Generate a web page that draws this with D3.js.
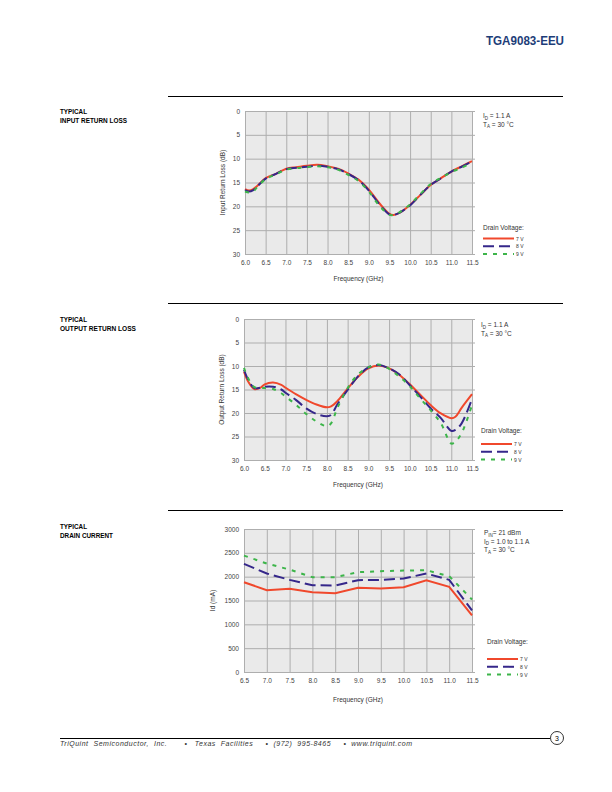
<!DOCTYPE html>
<html>
<head>
<meta charset="utf-8">
<script src="https://cdn.jsdelivr.net/npm/d3@7"></script>
<style>
  body { margin: 0; background: #fff; }
  svg text { font-family: "Liberation Sans", Arial, sans-serif; }
</style>
</head>
<body>
<svg width="612" height="792"></svg>
<script>
// chart 1: input return loss (dB) vs frequency (GHz)
const irlFreq = [6.0, 6.1, 6.2, 6.3, 6.5, 6.75, 7.0, 7.25, 7.5, 7.75, 8.0, 8.25, 8.5, 8.75, 9.0, 9.25, 9.5, 9.6, 9.75, 10.0, 10.25, 10.5, 10.75, 11.0, 11.25, 11.5];
const irl7V = [16.4, 16.7, 16.4, 15.7, 14.1, 13.2, 12.1, 11.8, 11.5, 11.3, 11.6, 12.1, 13.1, 14.4, 16.5, 19.3, 21.6, 21.8, 21.3, 19.7, 17.6, 15.5, 14.1, 12.7, 11.6, 10.5];
const irl8V = [16.6, 16.9, 16.6, 15.8, 14.2, 13.2, 12.2, 11.9, 11.7, 11.5, 11.7, 12.2, 13.2, 14.5, 16.7, 19.5, 21.7, 21.8, 21.3, 19.8, 17.6, 15.5, 14.1, 12.7, 11.7, 10.6];
const irl9V = [16.9, 17.1, 16.9, 15.9, 14.3, 13.3, 12.3, 12.0, 11.8, 11.6, 11.8, 12.3, 13.4, 14.7, 16.9, 19.8, 21.8, 21.8, 21.2, 19.6, 17.4, 15.3, 14.0, 12.8, 11.9, 10.8];

// chart 2: output return loss (dB)
const orlFreq = [6.0, 6.1, 6.25, 6.4, 6.5, 6.7, 6.9, 7.0, 7.25, 7.5, 7.75, 8.0, 8.1, 8.25, 8.5, 8.75, 9.0, 9.25, 9.5, 9.75, 10.0, 10.25, 10.5, 10.75, 11.0, 11.1, 11.25, 11.5];
const orl7V = [11.2, 13.3, 14.9, 14.6, 13.9, 13.5, 14.0, 14.6, 16.0, 17.2, 18.2, 18.8, 18.6, 17.5, 14.8, 12.3, 10.5, 9.9, 10.5, 11.9, 13.9, 16.1, 18.3, 20.1, 21.1, 20.8, 18.9, 16.0];
const orl8V = [10.8, 12.9, 14.7, 14.6, 14.4, 14.4, 15.0, 15.7, 17.2, 19.0, 20.2, 20.7, 20.4, 18.2, 15.1, 12.2, 10.3, 9.8, 10.5, 11.8, 14.1, 16.5, 19.0, 21.1, 23.8, 23.6, 22.2, 17.0];
const orl9V = [10.4, 12.6, 14.5, 14.7, 14.7, 14.9, 15.8, 16.5, 18.2, 20.2, 21.8, 22.8, 22.2, 19.0, 14.7, 11.8, 10.3, 9.7, 10.6, 12.3, 14.3, 16.9, 19.4, 22.2, 26.5, 26.1, 24.3, 18.3];

// chart 3: drain current (mA)
const idFreq = [6.5, 7.0, 7.5, 8.0, 8.5, 9.0, 9.5, 10.0, 10.5, 11.0, 11.5];
const id7V = [1884, 1717, 1745, 1675, 1654, 1766, 1752, 1780, 1926, 1787, 1186];
const id8V = [2268, 2066, 1933, 1821, 1814, 1926, 1933, 1961, 2066, 1933, 1291];
const id9V = [2442, 2275, 2149, 1989, 1989, 2094, 2115, 2128, 2135, 2010, 1521];

const seriesNames = ["7 V", "8 V", "9 V"];
const seriesColors = ["#f0482c", "#35278a", "#3db54a"];
const seriesDash = [null, "11,5", "4,6"];

const svg = d3.select("svg");

// condensed bold text, squeezed to the width seen in the datasheet
function narrowText(parent, x, y, size, width, txt, anchor) {
    return parent.append("text")
        .attr("x", x).attr("y", y)
        .attr("text-anchor", anchor || "start")
        .attr("textLength", width)
        .attr("lengthAdjust", "spacingAndGlyphs")
        .style("font-weight", "bold")
        .style("font-size", size + "px")
        .text(txt);
}

// header
narrowText(svg, 564, 45, 13.5, 78, "TGA9083-EEU", "end").attr("fill", "#1d3d78");

function drawChart(cfg) {
    const g = svg.append("g");

    // section rule
    g.append("line")
        .attr("x1", 168).attr("x2", 563)
        .attr("y1", cfg.ruleY).attr("y2", cfg.ruleY)
        .attr("stroke", "#000").attr("stroke-width", 1);

    // section title
    cfg.title.forEach((t, i) => {
        narrowText(g, 60, cfg.titleY + i * 9, 7.5, cfg.titleW[i], t);
    });

    const x = d3.scaleLinear().domain(cfg.xDomain).range([cfg.left, cfg.right]);
    const y = d3.scaleLinear().domain(cfg.yDomain).range([cfg.top, cfg.bottom]);

    g.append("rect")
        .attr("x", cfg.left).attr("y", cfg.top)
        .attr("width", cfg.right - cfg.left).attr("height", cfg.bottom - cfg.top)
        .attr("fill", "#eaeaea");

    // grid
    g.append("g")
        .attr("transform", "translate(0," + cfg.bottom + ")")
        .call(d3.axisBottom(x).tickValues(cfg.xTicks).tickSize(-(cfg.bottom - cfg.top)).tickFormat(d => d.toFixed(1)).tickPadding(6))
        .call(a => a.select(".domain").remove())
        .call(a => a.selectAll("line").attr("stroke", "#aeaeae"))
        .call(a => a.selectAll("text").attr("fill", "#444").style("font-size", "6.5px"));

    g.append("g")
        .attr("transform", "translate(" + cfg.left + ",0)")
        .call(d3.axisLeft(y).tickValues(cfg.yTicks).tickSize(-(cfg.right - cfg.left + 3)).tickFormat(d3.format("d")).tickPadding(5))
        .call(a => a.select(".domain").remove())
        .call(a => a.selectAll("line").attr("stroke", "#aeaeae"))
        .call(a => a.selectAll("text").attr("fill", "#444").style("font-size", "6.5px"));

    // axis titles
    g.append("text")
        .attr("transform", "translate(" + cfg.yLabelX + "," + ((cfg.top + cfg.bottom) / 2) + ") rotate(-90)")
        .attr("text-anchor", "middle")
        .attr("fill", "#333")
        .style("font-size", "6.5px")
        .text(cfg.yLabel);

    g.append("text")
        .attr("x", (cfg.left + cfg.right) / 2).attr("y", cfg.xLabelY)
        .attr("text-anchor", "middle")
        .attr("fill", "#333")
        .style("font-size", "6.5px")
        .text("Frequency (GHz)");

    // series
    const line = d3.line()
        .x(d => x(d[0]))
        .y(d => y(d[1]))
        .curve(cfg.curve);

    cfg.series.forEach((vals, i) => {
        g.append("path")
            .datum(cfg.freq.map((f, j) => [f, vals[j]]))
            .attr("fill", "none")
            .attr("stroke", seriesColors[i])
            .attr("stroke-width", 2)
            .attr("stroke-dasharray", seriesDash[i])
            .attr("d", line);
    });

    // conditions
    cfg.notes.forEach((n, i) => {
        const t = g.append("text")
            .attr("x", cfg.noteX).attr("y", cfg.noteY + i * 8.5)
            .attr("fill", "#333")
            .style("font-size", "6.5px");
        t.append("tspan").text(n[0]);
        t.append("tspan").attr("dy", 1.5).style("font-size", "4.5px").text(n[1]);
        t.append("tspan").attr("dy", -1.5).text(n[2]);
    });

    // legend
    g.append("text")
        .attr("x", cfg.legX).attr("y", cfg.legY)
        .attr("fill", "#333")
        .style("font-size", "6.5px")
        .text("Drain Voltage:");

    seriesNames.forEach((s, i) => {
        const ly = cfg.legY + cfg.legGap0 + i * 7.8;
        g.append("line")
            .attr("x1", cfg.legX).attr("x2", cfg.legX + 31)
            .attr("y1", ly).attr("y2", ly)
            .attr("stroke", seriesColors[i])
            .attr("stroke-width", 2)
            .attr("stroke-dasharray", seriesDash[i]);
        g.append("text")
            .attr("x", cfg.legX + 33).attr("y", ly + 2)
            .attr("fill", "#333")
            .style("font-size", "5px")
            .text(s);
    });
}

drawChart({
    ruleY: 96.5, title: ["TYPICAL", "INPUT RETURN LOSS"], titleW: [27, 67], titleY: 114,
    left: 245, right: 472, top: 111, bottom: 254,
    xDomain: [6, 11.5], yDomain: [0, 30],
    xTicks: d3.range(6, 11.51, 0.5), yTicks: d3.range(0, 31, 5),
    yLabel: "Input Return Loss (dB)", yLabelX: 225, xLabelY: 281,
    freq: irlFreq, series: [irl7V, irl8V, irl9V], curve: d3.curveCatmullRom,
    notes: [["I", "D", " = 1.1 A"], ["T", "A", " = 30 °C"]], noteX: 483, noteY: 118,
    legX: 483, legY: 230, legGap0: 8.5
});

drawChart({
    ruleY: 303.5, title: ["TYPICAL", "OUTPUT RETURN  LOSS"], titleW: [27, 76], titleY: 322,
    left: 244, right: 472, top: 319, bottom: 460,
    xDomain: [6, 11.5], yDomain: [0, 30],
    xTicks: d3.range(6, 11.51, 0.5), yTicks: d3.range(0, 31, 5),
    yLabel: "Output Return Loss (dB)", yLabelX: 224, xLabelY: 487,
    freq: orlFreq, series: [orl7V, orl8V, orl9V], curve: d3.curveCatmullRom,
    notes: [["I", "D", " = 1.1 A"], ["T", "A", " = 30 °C"]], noteX: 481, noteY: 327,
    legX: 481, legY: 433, legGap0: 11
});

drawChart({
    ruleY: 510.5, title: ["TYPICAL", "DRAIN CURRENT"], titleW: [27, 53], titleY: 529,
    left: 244, right: 472, top: 529, bottom: 672,
    xDomain: [6.5, 11.5], yDomain: [3000, 0],
    xTicks: d3.range(6.5, 11.51, 0.5), yTicks: d3.range(0, 3001, 500),
    yLabel: "Id (mA)", yLabelX: 215, xLabelY: 702,
    freq: idFreq, series: [id7V, id8V, id9V], curve: d3.curveLinear,
    notes: [["P", "IN", "= 21 dBm"], ["I", "D", " = 1.0 to 1.1 A"], ["T", "A", " = 30 °C"]], noteX: 484, noteY: 535,
    legX: 487, legY: 644, legGap0: 15
});

// footer
svg.append("line")
    .attr("x1", 60).attr("x2", 550)
    .attr("y1", 738.5).attr("y2", 738.5)
    .attr("stroke", "#000").attr("stroke-width", 1);
svg.append("circle")
    .attr("cx", 557).attr("cy", 738).attr("r", 6.5)
    .attr("fill", "#fff").attr("stroke", "#000").attr("stroke-width", 0.8);
svg.append("text")
    .attr("x", 557).attr("y", 740.5)
    .attr("text-anchor", "middle")
    .style("font-size", "7px")
    .text("3");
svg.append("text")
    .attr("x", 60).attr("y", 745.5)
    .attr("fill", "#333")
    .attr("textLength", 352)
    .attr("lengthAdjust", "spacing")
    .style("font-size", "7px")
    .style("font-style", "italic")
    .style("white-space", "pre")
    .text("TriQuint  Semiconductor,  Inc.       •   Texas  Facilities     •  (972)  995-8465     •  www.triquint.com");
</script>
</body>
</html>
